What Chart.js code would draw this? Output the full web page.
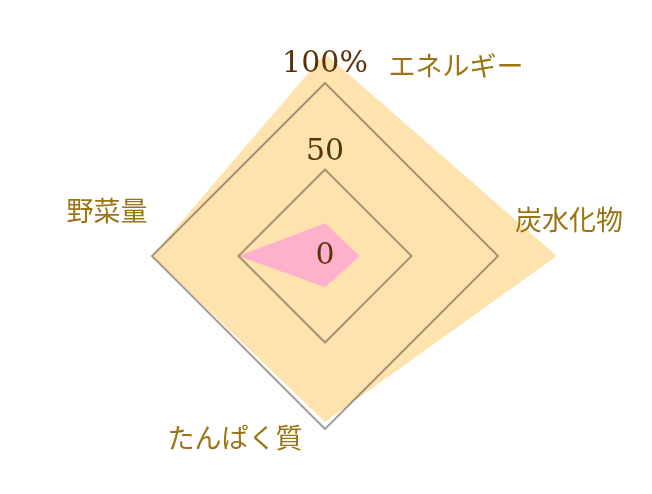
<!DOCTYPE html>
<html lang="ja">
<head>
<meta charset="utf-8">
<title>栄養バランス</title>
<script src="https://cdn.jsdelivr.net/npm/chart.js@4.4.1/dist/chart.umd.min.js"></script>
<style>
  html, body { margin: 0; padding: 0; background: #fff; }
  #wrap { width: 652px; height: 494px; }
</style>
</head>
<body>
<div id="wrap"><canvas id="radar"></canvas></div>
<script>
const labels = ['エネルギー', '炭水化物', 'たんぱく質', '野菜量'];
const intake = [19, 20, 18, 50];
const backdrop = [117, 134, 96, 100];
const tickLabels = ['0', '50', '100%'];

let ctx = document.getElementById('radar').getContext('2d');

// the tick texts float a bit above their grid ring (scale units)
const tickSpots = [0, 60, 111];
// shift of each category name from the outer corner of the grid
const nameShift = [[131, -17], [71, -36], [-90, 9], [-45, -45]];

const categoryNames = {
  id: 'categoryNames',
  afterDraw(chart) {
    const r = chart.scales.r;
    const c = chart.ctx;
    c.save();
    c.font = '27px "Noto Sans CJK JP"';
    c.fillStyle = '#9b7414';
    c.textAlign = 'center';
    c.textBaseline = 'middle';
    chart.data.labels.forEach((name, i) => {
      const p = r.getPointPosition(i, r.drawingArea);
      c.fillText(name, p.x + nameShift[i][0], p.y + nameShift[i][1]);
    });
    c.restore();
  }
};

const tickFont = { family: '"DejaVu Serif", serif', size: 30 };

var chart = new Chart(ctx, {
  type: 'radar',
  data: {
    labels: labels,
    datasets: [
      {
        label: '摂取量',
        data: intake,
        backgroundColor: '#ffb1cb',
        borderColor: 'transparent',
        borderWidth: 0,
        pointRadius: 0,
        fill: true,
        clip: false
      },
      {
        label: '目安',
        data: backdrop,
        backgroundColor: '#ffe3af',
        borderColor: 'transparent',
        borderWidth: 0,
        pointRadius: 0,
        fill: true,
        clip: false
      }
    ]
  },
  options: {
    responsive: true,
    maintainAspectRatio: false,
    animation: false,
    layout: { padding: { top: 48, bottom: 30, left: 0, right: 2 } },
    plugins: {
      legend: { display: false },
      tooltip: { enabled: false }
    },
    scales: {
      r: {
        min: 0,
        max: 100,
        angleLines: { display: false },
        grid: { color: 'rgba(90, 80, 70, 0.55)', lineWidth: 2, z: 1 },
        pointLabels: { display: false },
        ticks: { stepSize: 50, font: tickFont, backdropPadding: 20, color: 'transparent', showLabelBackdrop: false }
      },
      marks: {
        type: 'radialLinear',
        axis: 'r',
        min: -0.001,
        max: 100,
        angleLines: { display: false },
        grid: { display: false },
        pointLabels: { display: false },
        ticks: {
          z: 1,
          font: tickFont,
          backdropPadding: 20,
          color: '#5a320a',
          showLabelBackdrop: false,
          autoSkip: false,
          callback: (v, i) => tickLabels[i]
        },
        afterBuildTicks: s => { s.ticks = tickSpots.map(v => ({ value: v })); }
      }
    }
  },
  plugins: [categoryNames]
});
</script>
</body>
</html>
